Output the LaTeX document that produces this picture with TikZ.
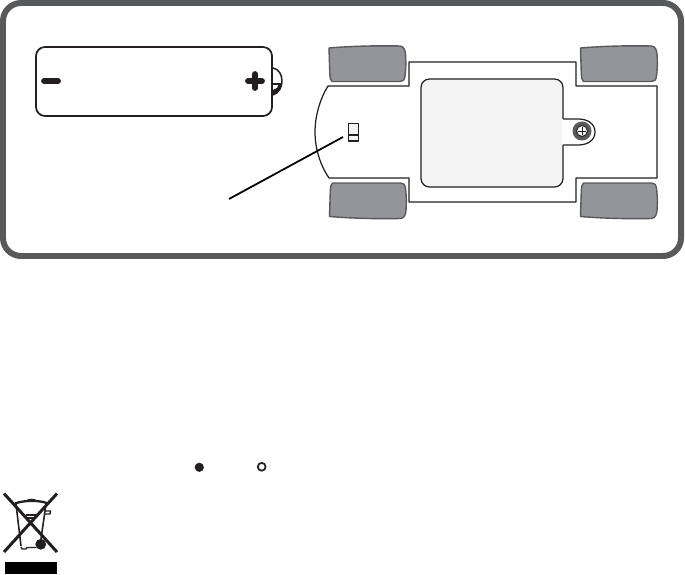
\documentclass[tikz,border=0pt]{standalone}
\usetikzlibrary{calc}
\definecolor{ink}{HTML}{231F20}
\definecolor{frame}{HTML}{58595B}
\definecolor{tyre}{HTML}{939598}
\definecolor{panel}{HTML}{F4F4F4}
\begin{document}
\begin{tikzpicture}[
  x=0.02cm, y=-0.02cm,
  line join=round,
  body/.style={draw=ink, line width=0.85pt},
  thin body/.style={draw=ink, line width=0.7pt},
  wheel/.style={draw=frame, line width=0.8pt, fill=tyre},
  lead/.style={draw=black, line width=1pt},
]
\useasboundingbox (0,0) rectangle (685,574);
\fill[white] (0,0) rectangle (685,574);

% --- Outer frame
\draw[frame, line width=3.4pt, rounded corners=0.36cm] (3,3) rectangle (681,256);

% --- Battery
\draw[body, line width=1pt, rounded corners=0.18cm] (36,47) rectangle (272,116);
\fill[ink] (273,95) .. controls (277,94) and (281,90) .. (281.5,84)
  -- (279,84) .. controls (278.5,87) and (276,89.5) .. (273,90) -- cycle;
\draw[body] (273,68) .. controls (279,69) and (282,75) .. (282,81)
  .. controls (282,87) and (279,93) .. (273,95);
\draw[thin body] (273,84) -- (281,84);
\draw[ink, line width=3.3pt, line cap=round] (44,81) -- (58,81);
\draw[ink, line width=3.3pt, line cap=round] (248,81) -- (262,81) (255,74) -- (255,88);

% --- Car seen from below
\draw[thin body, fill=white]
  (328,86) -- (409,86) -- (409,62) -- (576,62) -- (576,86) -- (657,86)
  -- (657,178) -- (576,178) -- (576,202) -- (409,202) -- (409,178) -- (329,178)
  .. controls (320,165) and (315,148) .. (315,132)
  .. controls (315,116) and (320,99) .. (328,86) -- cycle;

% wheels: centre x / centre y / side
\foreach \cx/\cy/\sy in {367/64/1,618.5/64/1,367.5/200.5/-1,618.5/200.5/-1} {
  \begin{scope}[shift={(\cx,\cy)}, yscale=\sy]
    \filldraw[wheel]
      (-38,-16) .. controls (-14,-18) and (12,-18.5) .. (33,-18)
      .. controls (37,-17.5) and (38,-14) .. (38.5,-10)
      .. controls (39,-3) and (39,5) .. (38,12)
      .. controls (37.5,16) and (36,17.5) .. (33,17.5)
      -- (-35,17.5) .. controls (-36.5,16) and (-37,14) .. (-37.2,10) -- cycle;
  \end{scope}
}

% --- Battery door with screw tab
\filldraw[thin body, fill=white]
  (563,119) -- (578,119) .. controls (588,119) and (595,124) .. (595,132)
  .. controls (595,140) and (588,145) .. (578,145) -- (563,145);
\filldraw[thin body, fill=panel, rounded corners=0.17cm]
  (563,119) -- (563,79) -- (421,79) -- (421,187) -- (563,187) -- (563,145);
\fill[white] (562.2,119.8) rectangle (566,144.2);

% screw
\fill[frame] (582,131) circle (9.5);
\filldraw[thin body, line width=0.55pt, fill=panel] (582,131) circle (5.5);
\draw[ink, line width=0.5pt] (578,131) -- (586,131) (582,127) -- (582,135);

% --- Switch
\filldraw[thin body, fill=panel] (348.5,123.5) rectangle (358.5,141);
\fill[ink] (348.5,134) rectangle (358.5,136);

% --- Pointer line
\coordinate (pointerfoot) at (229,199);
\coordinate (pointertip) at (343,137);
\draw[lead] (pointerfoot) -- (pointertip);

% --- Indicator dots
\fill[ink] (199.3,467.3) circle (4.6);
\draw[ink, line width=1pt] (261.7,466.8) circle (3.9);

% --- Crossed-out bin
\draw[ink, line width=0.9pt] (16,504) -- (21,546) (46,504) -- (40,546);
\draw[ink, line width=1.3pt] (15,503.5) .. controls (24,500) and (40,500) .. (48,503.5);
\fill[ink] (26,501) .. controls (26,497.5) and (37,497.5) .. (37,501) -- cycle;
\draw[ink, line width=0.8pt] (21,547) -- (22,549) -- (26,549) -- (27,547.5) -- (36,547.5);
\draw[ink, line width=0.8pt] (45,511) -- (50.5,511) -- (50,514) -- (45,514);
\draw[ink, line width=0.8pt] (26,515) -- (37,515) (27,518) -- (36,518);
\fill[ink] (40.7,544.3) circle (5.4);
\draw[ink, line width=1.7pt] (4,493.5) -- (57,552) (57,493.5) -- (4,552);
\fill[black] (5,562) rectangle (57,574);
\end{tikzpicture}
\end{document}
